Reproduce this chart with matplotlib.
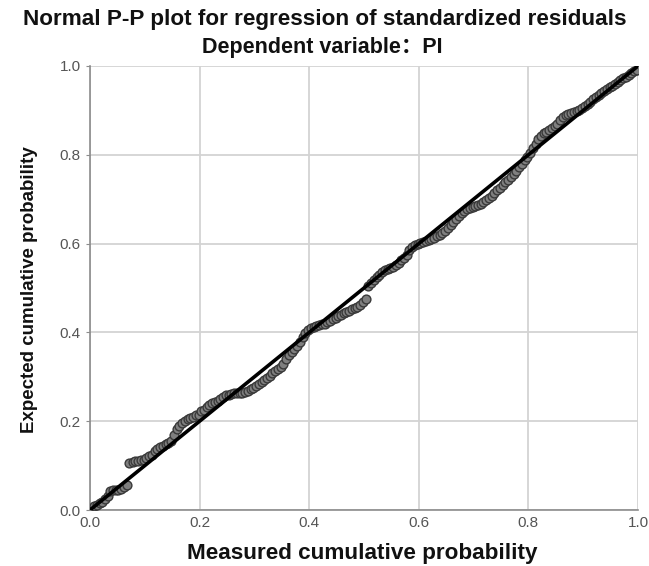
import matplotlib
matplotlib.use("Agg")
import matplotlib.pyplot as plt

title1 = "Normal P-P plot for regression of standardized residuals"
title2 = "Dependent variable：PI"
xlabel = "Measured cumulative probability"
ylabel = "Expected cumulative probability"
ticks = [0.0, 0.2, 0.4, 0.6, 0.8, 1.0]
tick_labels = ["0.0", "0.2", "0.4", "0.6", "0.8", "1.0"]

obs = [0.003, 0.008, 0.013, 0.018, 0.022, 0.027, 0.032, 0.037, 0.042, 0.047, 0.052, 0.057, 0.062, 0.067,
       0.072, 0.078, 0.083, 0.088, 0.093, 0.098, 0.103, 0.108, 0.113, 0.118, 0.123, 0.128, 0.133, 0.138,
       0.143, 0.148, 0.153, 0.158, 0.163, 0.168, 0.173, 0.178, 0.183, 0.188, 0.193, 0.198,
       0.203, 0.208, 0.213, 0.218, 0.223, 0.228, 0.233, 0.238, 0.243, 0.248, 0.253, 0.258, 0.263, 0.268,
       0.273, 0.278, 0.283, 0.288, 0.293, 0.298, 0.303, 0.308, 0.313, 0.318, 0.323, 0.328, 0.333, 0.338,
       0.343, 0.348, 0.353, 0.358, 0.363, 0.368, 0.373, 0.378, 0.383, 0.388, 0.393, 0.398,
       0.403, 0.408, 0.413, 0.418, 0.423, 0.428, 0.433, 0.438, 0.443, 0.448, 0.453, 0.458, 0.463, 0.468,
       0.473, 0.478, 0.483, 0.488, 0.493, 0.498, 0.503, 0.508, 0.513, 0.518, 0.523, 0.528, 0.533, 0.538,
       0.543, 0.548, 0.553, 0.558, 0.563, 0.568, 0.573, 0.578, 0.583, 0.588, 0.593, 0.598,
       0.603, 0.608, 0.613, 0.618, 0.623, 0.628, 0.633, 0.638, 0.643, 0.648, 0.653, 0.658, 0.663, 0.668,
       0.673, 0.678, 0.683, 0.688, 0.693, 0.698, 0.703, 0.708, 0.713, 0.718, 0.723, 0.728, 0.733, 0.738,
       0.743, 0.748, 0.753, 0.758, 0.763, 0.768, 0.773, 0.778, 0.783, 0.788, 0.793, 0.798,
       0.803, 0.808, 0.813, 0.818, 0.823, 0.828, 0.833, 0.838, 0.843, 0.848, 0.853, 0.858, 0.863, 0.868,
       0.873, 0.878, 0.883, 0.888, 0.893, 0.898, 0.903, 0.908, 0.913, 0.918, 0.923, 0.928, 0.933, 0.938,
       0.943, 0.948, 0.953, 0.958, 0.963, 0.968, 0.973, 0.978, 0.983, 0.988, 0.993, 0.998]

exp = [0.004, 0.008, 0.012, 0.015, 0.018, 0.025, 0.032, 0.042, 0.045, 0.045, 0.046, 0.048, 0.052, 0.056,
       0.105, 0.108, 0.110, 0.110, 0.112, 0.113, 0.118, 0.122, 0.125, 0.132, 0.138, 0.142, 0.145, 0.148,
       0.150, 0.155, 0.170, 0.182, 0.190, 0.195, 0.200, 0.205, 0.208, 0.210, 0.213, 0.215,
       0.222, 0.226, 0.232, 0.236, 0.240, 0.243, 0.246, 0.250, 0.254, 0.258, 0.260, 0.262, 0.263, 0.263,
       0.264, 0.264, 0.265, 0.268, 0.272, 0.275, 0.279, 0.283, 0.288, 0.292, 0.298, 0.302, 0.308, 0.312,
       0.318, 0.322, 0.328, 0.340, 0.350, 0.356, 0.362, 0.370, 0.378, 0.390, 0.398, 0.405,
       0.410, 0.412, 0.414, 0.416, 0.418, 0.420, 0.423, 0.426, 0.430, 0.433, 0.436, 0.440, 0.443, 0.446,
       0.449, 0.452, 0.455, 0.458, 0.462, 0.468, 0.476, 0.505, 0.512, 0.518, 0.525, 0.530, 0.536, 0.540,
       0.543, 0.546, 0.548, 0.552, 0.556, 0.562, 0.568, 0.575, 0.585, 0.592, 0.597, 0.600,
       0.602, 0.603, 0.605, 0.607, 0.610, 0.613, 0.616, 0.620, 0.624, 0.628, 0.635, 0.642, 0.648, 0.655,
       0.662, 0.668, 0.674, 0.678, 0.680, 0.682, 0.684, 0.686, 0.690, 0.694, 0.698, 0.702, 0.708, 0.714,
       0.720, 0.726, 0.732, 0.738, 0.744, 0.750, 0.757, 0.764, 0.772, 0.780, 0.788, 0.795,
       0.805, 0.815, 0.825, 0.835, 0.842, 0.848, 0.852, 0.856, 0.860, 0.864, 0.870, 0.878, 0.886, 0.890,
       0.892, 0.894, 0.896, 0.898, 0.902, 0.906, 0.910, 0.915, 0.920, 0.925, 0.930, 0.935, 0.940, 0.944,
       0.948, 0.952, 0.956, 0.960, 0.964, 0.968, 0.972, 0.976, 0.980, 0.984, 0.988, 0.992]

ref_line = [0.0, 1.0]

fam = ["Liberation Sans", "Noto Sans CJK SC", "DejaVu Sans"]
plt.rcParams["font.family"] = fam

fig = plt.figure(figsize=(6.49, 5.66), dpi=100)
ax = fig.add_axes([90 / 649, 56 / 566, 548 / 649, 444 / 566])

ax.scatter(obs, exp, s=40, facecolor="#7f7f7f", edgecolor="#3a3a3a", linewidths=1.0, zorder=3)
ax.plot(ref_line, ref_line, color="black", lw=2.6, zorder=4)

ax.set_xlim(0, 1)
ax.set_ylim(0, 1)
ax.set_xticks(ticks)
ax.set_xticklabels(tick_labels)
ax.set_yticks(ticks)
ax.set_yticklabels(tick_labels)
ax.grid(True, color="#d3d3d3", lw=1.3, zorder=0)
ax.set_axisbelow(True)
for s in ["top", "right"]:
    ax.spines[s].set_visible(False)
for s in ["left", "bottom"]:
    ax.spines[s].set_color("#8c8c8c")
    ax.spines[s].set_linewidth(1.2)
ax.tick_params(axis="both", colors="#8c8c8c", labelcolor="#555555", labelsize=11, length=3)
ax.tick_params(axis="x", length=0, pad=4)

fig.text(0.5, 1 - 19 / 566, title1, ha="center", va="center", fontsize=16.2, fontweight="bold", color="#111111")
fig.text(322 / 649, 1 - 47 / 566, title2, ha="center", va="center", fontsize=15.5, fontweight="bold", color="#111111")
fig.text(362 / 649, 1 - 553 / 566, xlabel, ha="center", va="center", fontsize=16.2, fontweight="bold", color="#111111")
fig.text(30 / 649, 1 - 290 / 566, ylabel, ha="center", va="center", rotation=90, fontsize=13.5,
         fontweight="bold", color="#111111", family=["Liberation Sans Narrow", "Liberation Sans"])

fig.savefig("out.png", dpi=100)
